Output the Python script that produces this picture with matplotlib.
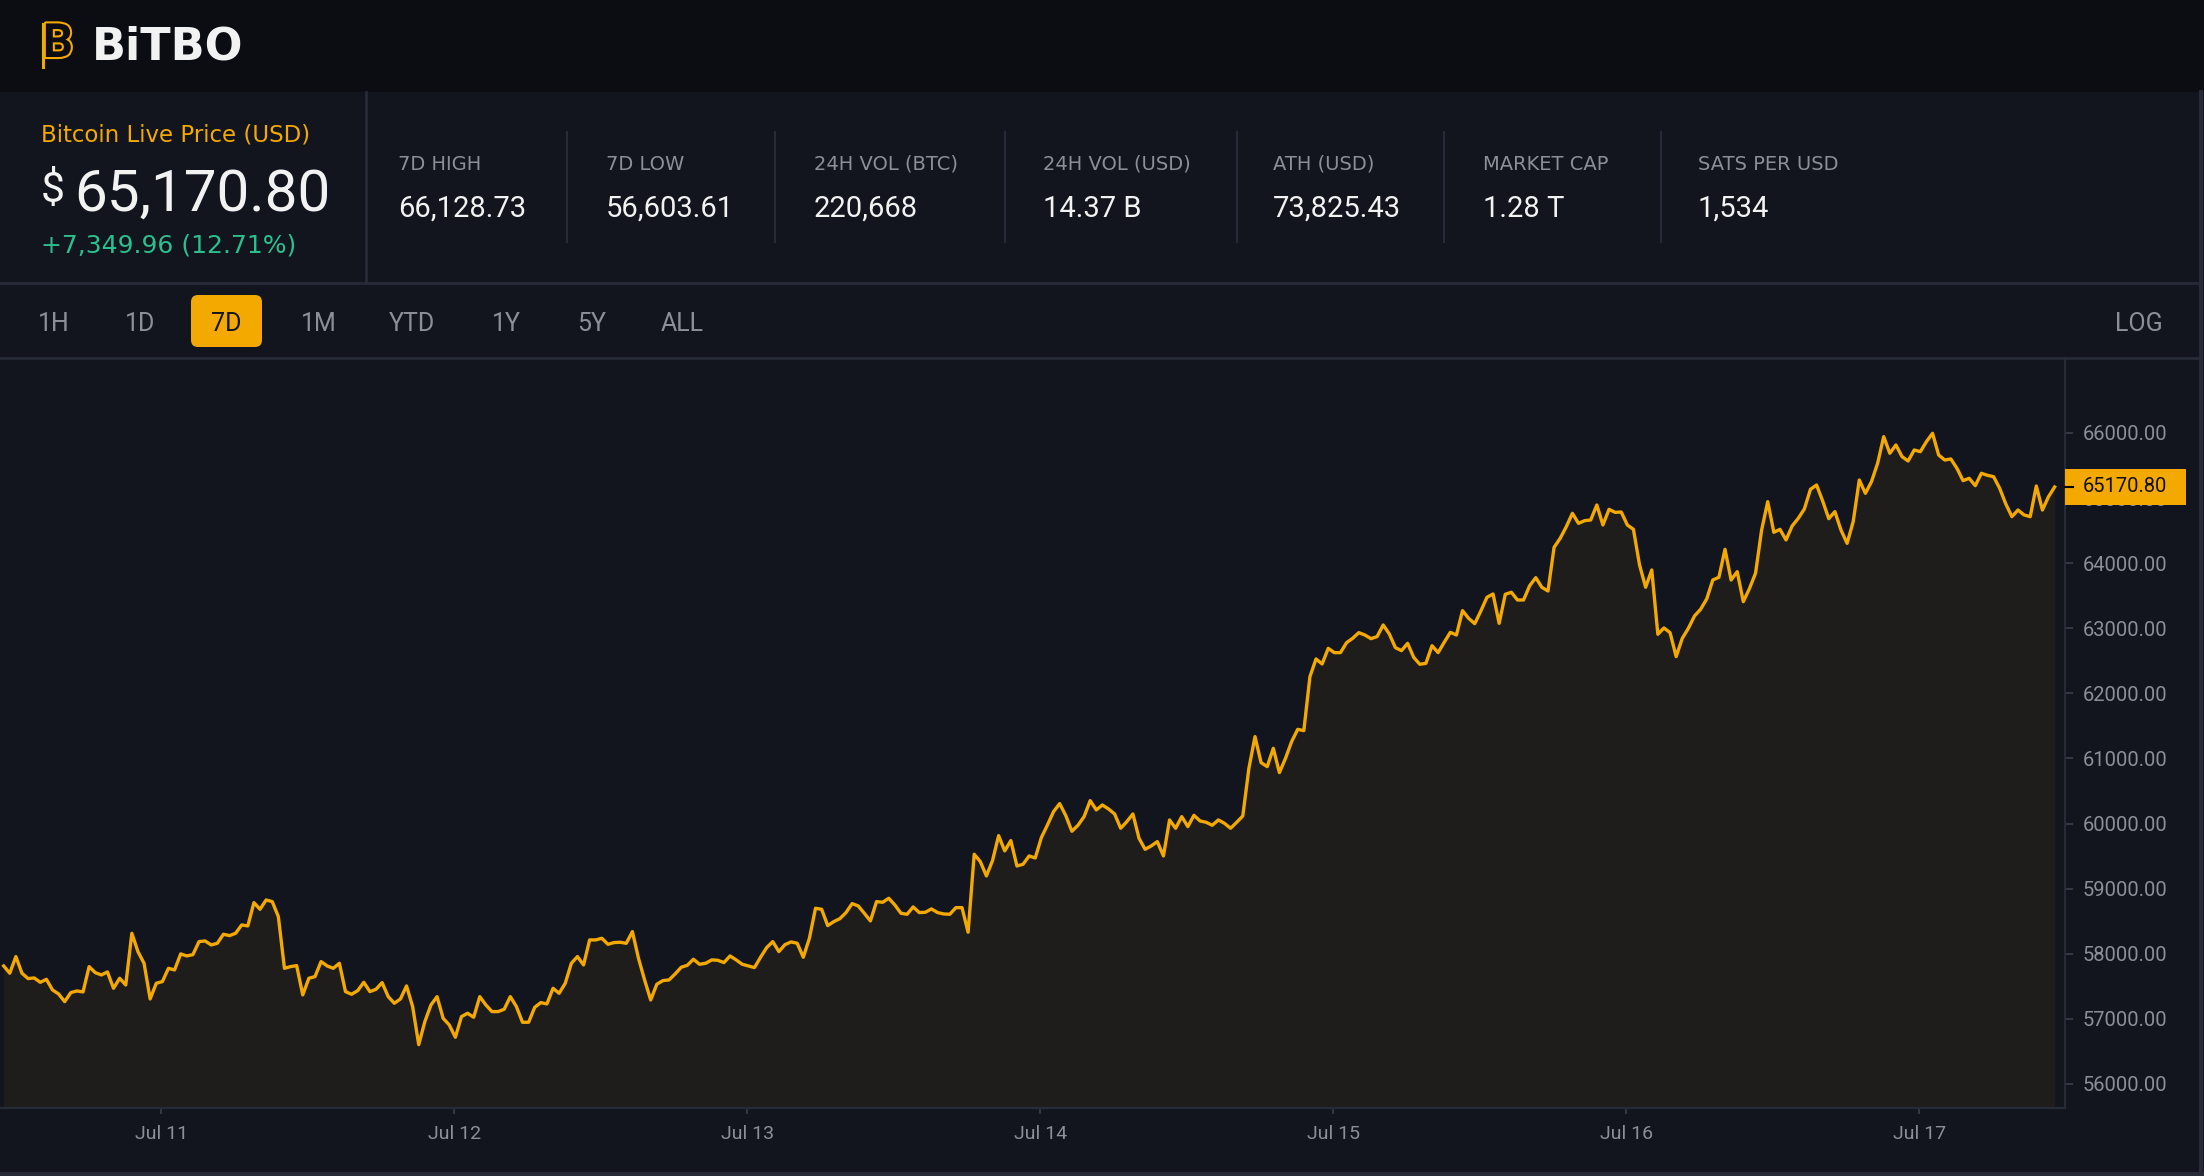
import matplotlib

matplotlib.use("Agg")
import matplotlib.pyplot as plt
import matplotlib.dates as mdates
import matplotlib.patheffects as pe
from matplotlib.lines import Line2D
from matplotlib.patches import Rectangle, FancyBboxPatch
from matplotlib.transforms import IdentityTransform, blended_transform_factory
from matplotlib.ticker import StrMethodFormatter
import numpy as np
import pandas as pd

# --- data (30 minute closes, Jul 10 11:05 -> Jul 17 11:05) ---
price_seg1 = [57813, 57701, 57957, 57701, 57619, 57629, 57562, 57608, 57445, 57383,
              57265, 57404, 57429, 57414, 57803, 57711, 57675, 57721, 57470, 57624,
              57521, 58315, 58033, 57854, 57306, 57547, 57573, 57777, 57752, 57998,
              57967, 57987, 58187, 58197, 58136, 58161, 58300, 58279, 58315, 58443,
              58428, 58786, 58684, 58827, 58801, 58571, 57777, 57803, 57818, 57368,
              57624, 57649, 57880, 57813, 57777, 57854, 57419, 57378, 57434, 57562,
              57419, 57455, 57557, 57342, 57240, 57306, 57506, 57189, 56604, 56958,
              57214, 57342, 57009, 56907, 56718, 57035, 57086, 57025, 57342, 57214,
              57112, 57112, 57148, 57342, 57189, 56948, 56948, 57178, 57250, 57230,
              57470, 57393, 57547, 57854, 57957, 57829, 58213, 58213, 58238, 58146,
              58172, 58177, 58161, 58341, 57931, 57598, 57291, 57532, 57588, 57598,
              57690, 57793, 57823]
price_seg2 = [57916, 57839, 57854, 57906, 57900, 57865, 57967, 57906, 57839, 57813,
              57788, 57947, 58095, 58187, 58034, 58141, 58182, 58162, 57947, 58238,
              58699, 58684, 58433, 58494, 58540, 58633, 58771, 58735, 58622, 58505,
              58802, 58791, 58853, 58750, 58622, 58607, 58720, 58633, 58638, 58689,
              58633, 58612, 58607, 58709, 58709, 58331, 59529, 59416, 59196, 59431,
              59815, 59580, 59739, 59349, 59375, 59503, 59472, 59785, 59979, 60184,
              60307, 60123, 59882, 59974, 60107, 60353, 60210, 60286, 60225, 60148,
              59928, 60030, 60148, 59774, 59605, 59657, 59723, 59503, 60056]
price_seg3 = [59928, 60107, 59953, 60127, 60040, 60020, 59974, 60056, 60004, 59928,
              60020, 60117, 60849, 61336, 60936, 60875, 61156, 60783, 61003, 61259,
              61448, 61428, 62257, 62529, 62452, 62692, 62626, 62626, 62779, 62846,
              62933, 62897, 62841, 62872, 63051, 62913, 62703, 62657, 62769, 62554,
              62447, 62462, 62733, 62626, 62785, 62938, 62897, 63271, 63153, 63071,
              63266, 63476, 63527, 63076, 63522, 63553, 63435, 63435, 63655, 63778,
              63629, 63573, 64244, 64382, 64561, 64766, 64612, 64653, 64664, 64894,
              64587, 64827, 64781, 64786]
price_seg4 = [64587, 64520, 63973, 63630, 63896, 62908, 63005, 62933, 62565, 62846,
              63000, 63189, 63292, 63450, 63742, 63783, 64213, 63742, 63870, 63409,
              63609, 63845, 64510, 64945, 64474, 64520, 64357, 64572, 64689, 64833,
              65135, 65201, 64956, 64684, 64792, 64510, 64305, 64638, 65278, 65073,
              65253, 65534, 65944, 65688, 65816, 65637, 65570, 65739, 65713, 65867,
              65995, 65662, 65585, 65601, 65457, 65268, 65304, 65191, 65381, 65350,
              65329, 65150, 64910, 64715, 64817, 64741, 64715, 65186, 64817, 65022,
              65170.80]

last_time = "2024-07-17 11:05"
last_price = 65170.80

stat_labels = ["7D HIGH", "7D LOW", "24H VOL (BTC)", "24H VOL (USD)", "ATH (USD)", "MARKET CAP", "SATS PER USD"]
stat_values = ["66,128.73", "56,603.61", "220,668", "14.37 B", "73,825.43", "1.28 T", "1,534"]
tabs = ["1H", "1D", "7D", "1M", "YTD", "1Y", "5Y", "ALL"]
active_tab = "7D"

prices = np.array(price_seg1 + price_seg2 + price_seg3 + price_seg4)
times = pd.date_range(end=last_time, periods=len(prices), freq="30min")

# colours
HEADER = "#0b0d12"
PANEL = "#12151e"
BORDER = "#272b38"
GREY = "#8c8f98"
WHITE = "#f2f2f2"
ORANGE = "#f3a900"
GREEN = "#2bbf8e"
TICK = "#3b3f4c"

plt.rcParams["font.family"] = ["Roboto", "DejaVu Sans"]
WIDE = ["DejaVu Sans"]  # letter-spaced labels come out closer with the wider face

W, H = 2204, 1176
fig = plt.figure(figsize=(W / 100, H / 100), dpi=100)
fig.patch.set_facecolor(PANEL)


def fx(x):
    return x / W


def fy(y):
    return 1 - y / H


def hline(x0, x1, y, lw=2.0):
    fig.add_artist(Line2D([fx(x0), fx(x1)], [fy(y), fy(y)], color=BORDER, lw=lw))


def vline(x, y0, y1, lw=1.5):
    fig.add_artist(Line2D([fx(x), fx(x)], [fy(y0), fy(y1)], color=BORDER, lw=lw))


# header bar
fig.add_artist(Rectangle((0, fy(92)), 1, 92 / H, transform=fig.transFigure,
                         facecolor=HEADER, edgecolor="none", zorder=0))
fig.text(fx(58), fy(44), "B", fontsize=34, fontweight="bold", color=HEADER,
         ha="center", va="center",
         path_effects=[pe.withStroke(linewidth=3, foreground=ORANGE)])
fig.add_artist(Line2D([fx(43), fx(43)], [fy(67), fy(24)], color=ORANGE, lw=2.2))
fig.text(fx(92), fy(59), "BiTBO", fontsize=32, fontweight="bold", color=WHITE,
         ha="left", va="baseline", family=WIDE)

# price block
fig.text(fx(41), fy(141), "Bitcoin Live Price (USD)", fontsize=16.5, color=ORANGE,
         va="baseline", family=WIDE)
fig.text(fx(41), fy(190), "$", fontsize=31, color=WHITE, va="center")
fig.text(fx(74), fy(211), "65,170.80", fontsize=42, color=WHITE, va="baseline")
fig.text(fx(41), fy(252), "+7,349.96 (12.71%)", fontsize=18, color=GREEN,
         va="baseline", family=WIDE)

# stats
stat_x = [398, 606, 814, 1043, 1273, 1483, 1698]
for x, lab, val in zip(stat_x, stat_labels, stat_values):
    fig.text(fx(x), fy(170), lab, fontsize=14, color=GREY, va="baseline", family=WIDE)
    fig.text(fx(x), fy(217), val, fontsize=21, color=WHITE, va="baseline")
for x in [567, 775, 1005, 1237, 1444, 1661]:
    vline(x, 132, 242)
vline(366, 92, 283, lw=2)

# tabs
hline(0, 2200, 283)
hline(0, 2200, 358)
tab_x = [38, 125, 212, 301, 389, 492, 577, 661]
for x, t in zip(tab_x, tabs):
    if t == active_tab:
        fig.add_artist(FancyBboxPatch((191, H - 347), 71, 52,
                                      boxstyle="round,pad=0,rounding_size=7",
                                      transform=IdentityTransform(),
                                      facecolor=ORANGE, edgecolor="none"))
        fig.text(fx(226), fy(331), t, fontsize=18, color="#15161a", ha="center", va="baseline")
    else:
        fig.text(fx(x), fy(331), t, fontsize=18, color=GREY, ha="left", va="baseline")
fig.text(fx(2163), fy(331), "LOG", fontsize=18, color=GREY, ha="right", va="baseline")

# outer border of the widget
vline(2201, 92, 1174, lw=3)
hline(0, 2204, 1174, lw=3)

# chart
ax = fig.add_axes([0, fy(1108), fx(2065), (1108 - 358) / H])
ax.set_facecolor(PANEL)
ymin, ymax = 55631, 67152
ax.fill_between(times, prices, ymin, color=ORANGE, alpha=0.06, lw=0)
ax.plot(times, prices, color=ORANGE, lw=2.4)
ax.set_ylim(ymin, ymax)
ax.set_xlim(pd.Timestamp("2024-07-10 10:47"), pd.Timestamp("2024-07-17 11:56"))

for s in ["left", "top"]:
    ax.spines[s].set_visible(False)
for s in ["right", "bottom"]:
    ax.spines[s].set_color(BORDER)
    ax.spines[s].set_linewidth(1.6)

ax.yaxis.tick_right()
ax.set_yticks(np.arange(56000, 66001, 1000))
ax.yaxis.set_major_formatter(StrMethodFormatter("{x:.2f}"))
ax.tick_params(axis="y", length=6, width=1.2, color=TICK, pad=6.5, labelsize=14.5, labelcolor=GREY)
ax.xaxis.set_major_locator(mdates.DayLocator())
ax.xaxis.set_major_formatter(mdates.DateFormatter("%b %d"))
ax.tick_params(axis="x", length=4.5, width=1.2, color=TICK, pad=8, labelsize=14, labelcolor=GREY)

# current price tag (sits on top of the 65000 label, as in the app)
tr = blended_transform_factory(ax.transAxes, ax.transData)
tag_h = 36 / 65.1 * 1000
ax.add_patch(Rectangle((1.0, last_price - tag_h / 2), 121 / 2065, tag_h, transform=tr,
                       facecolor=ORANGE, edgecolor="none", clip_on=False, zorder=10))
ax.add_line(Line2D([1.0, 1.0 + 8 / 2065], [last_price, last_price], transform=tr,
                   color="#000000", lw=1.5, clip_on=False, zorder=11))
ax.text(1.0 + 18 / 2065, last_price, f"{last_price:.2f}", transform=tr, fontsize=14.5,
        color="#111111", ha="left", va="center", clip_on=False, zorder=12)

fig.savefig("out.png", dpi=100, facecolor=fig.get_facecolor())
